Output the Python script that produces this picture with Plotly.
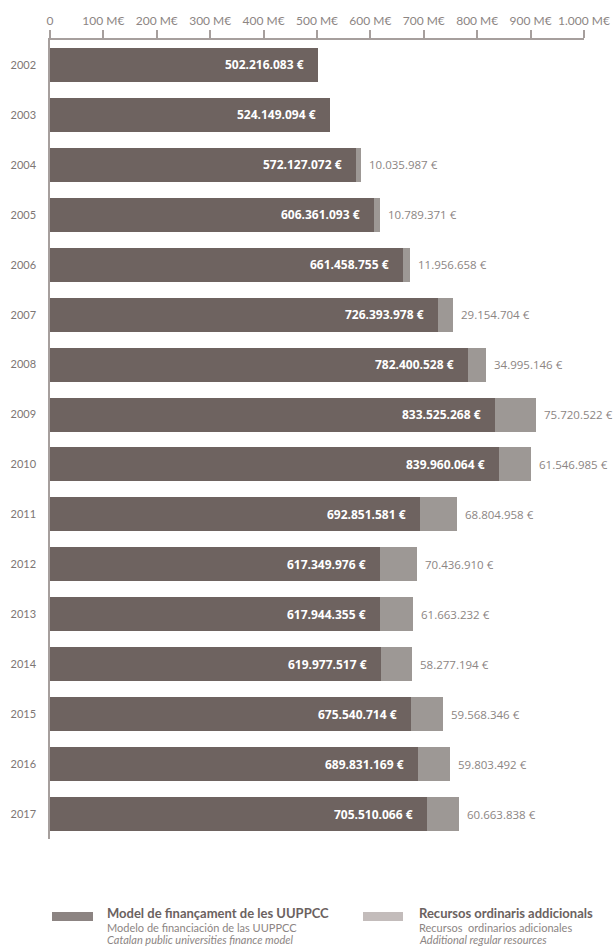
import plotly.graph_objects as go

# Annual funding of the Catalan public universities (EUR)
years = ["2002", "2003", "2004", "2005", "2006", "2007", "2008", "2009",
         "2010", "2011", "2012", "2013", "2014", "2015", "2016", "2017"]
model_funding = [502216083, 524149094, 572127072, 606361093, 661458755,
                 726393978, 782400528, 833525268, 839960064, 692851581,
                 617349976, 617944355, 619977517, 675540714, 689831169,
                 705510066]
additional_resources = [0, 0, 10035987, 10789371, 11956658, 29154704,
                        34995146, 75720522, 61546985, 68804958, 70436910,
                        61663232, 58277194, 59568346, 59803492, 60663838]

tick_values = [0, 100e6, 200e6, 300e6, 400e6, 500e6, 600e6, 700e6, 800e6,
               900e6, 1000e6]
tick_labels = ["0", "100 M€", "200 M€", "300 M€", "400 M€", "500 M€",
               "600 M€", "700 M€", "800 M€", "900 M€", "1.000 M€"]

DARK = "#6e6360"
LIGHT = "#9d9895"
AXIS = "#a69f9d"
GREY_TEXT = "#8c8583"

W, H = 615, 947
M_L, M_R, M_T, M_B = 50, 31, 40, 108
PW, PH = W - M_L - M_R, H - M_T - M_B


def fmt(v):
    return f"{v:,}".replace(",", ".") + " €"


def px_x(x):
    return (x - M_L) / PW


def px_y(y):
    return (H - M_B - y) / PH


fig = go.Figure()
fig.add_trace(go.Bar(
    y=years, x=model_funding, orientation="h", marker_color=DARK,
    marker_line_width=0, name="Model de finançament de les UUPPCC",
    hoverinfo="x+y",
))
fig.add_trace(go.Bar(
    y=years, x=additional_resources, orientation="h", marker_color=LIGHT,
    marker_line_width=0, name="Recursos ordinaris addicionals",
    hoverinfo="x+y",
))

# value labels; on a category axis annotations are placed by category index
annotations = []
for i, (base, extra) in enumerate(zip(model_funding, additional_resources)):
    annotations.append(dict(
        x=base, y=i, xref="x", yref="y", text=fmt(base), showarrow=False,
        xanchor="right", yanchor="middle", xshift=-12,
        font=dict(family="Open Sans", size=12, color="white", weight="bold"),
    ))
    if extra > 0:
        annotations.append(dict(
            x=base + extra, y=i, xref="x", yref="y", text=fmt(extra),
            showarrow=False, xanchor="left", yanchor="middle", xshift=6,
            font=dict(family="Open Sans", size=11.5, color=GREY_TEXT),
        ))

# custom legend below the chart
shapes = []
legend_items = [
    (52, 93, 912, 921, "#8c8482", 105,
     ["Model de finançament de les UUPPCC",
      "Modelo de financiación de las UUPPCC",
      "Catalan public universities finance model"]),
    (363, 403, 912, 921, "#c3bcbb", 417,
     ["Recursos ordinaris addicionals",
      "Recursos  ordinarios adicionales",
      "Additional regular resources"]),
]
for x0, x1, y0, y1, col, tx, lines in legend_items:
    shapes.append(dict(type="rect", xref="paper", yref="paper",
                       x0=px_x(x0), x1=px_x(x1), y0=px_y(y1), y1=px_y(y0),
                       fillcolor=col, line_width=0))
    annotations.append(dict(
        x=px_x(tx), y=px_y(913), xref="paper", yref="paper",
        text="<b>" + lines[0] + "</b>", showarrow=False, xanchor="left",
        yanchor="middle", font=dict(family="Lato", size=13, color="#6b6260"),
    ))
    annotations.append(dict(
        x=px_x(tx), y=px_y(927), xref="paper", yref="paper", text=lines[1],
        showarrow=False, xanchor="left", yanchor="middle",
        font=dict(family="Lato", size=11, color=GREY_TEXT),
    ))
    annotations.append(dict(
        x=px_x(tx), y=px_y(940), xref="paper", yref="paper",
        text="<i>" + lines[2] + "</i>", showarrow=False, xanchor="left",
        yanchor="middle", font=dict(family="Lato", size=11, color=GREY_TEXT),
    ))

fig.update_layout(
    width=W, height=H, barmode="stack", bargap=0.32, showlegend=False,
    paper_bgcolor="white", plot_bgcolor="white",
    margin=dict(l=M_L, r=M_R, t=M_T, b=M_B, autoexpand=False),
    annotations=annotations, shapes=shapes,
    font=dict(family="Lato", color=GREY_TEXT),
)
fig.update_xaxes(
    side="top", range=[0, 1000e6], tickvals=tick_values, ticktext=tick_labels,
    ticks="outside", ticklen=8, tickcolor=AXIS, tickwidth=1.5,
    showline=True, linecolor=AXIS, linewidth=1.5, showgrid=False,
    zeroline=False, tickfont=dict(family="Lato", size=12, color=GREY_TEXT),
)
fig.update_yaxes(
    type="category", categoryorder="array", categoryarray=years,
    range=[len(years) - 0.5, -0.5],
    showline=True, linecolor=AXIS, linewidth=1.5, showgrid=False,
    ticks="", ticklabelstandoff=10,
    tickfont=dict(family="Lato", size=11, color="#7d7674"),
)

fig.write_html("out.html")
